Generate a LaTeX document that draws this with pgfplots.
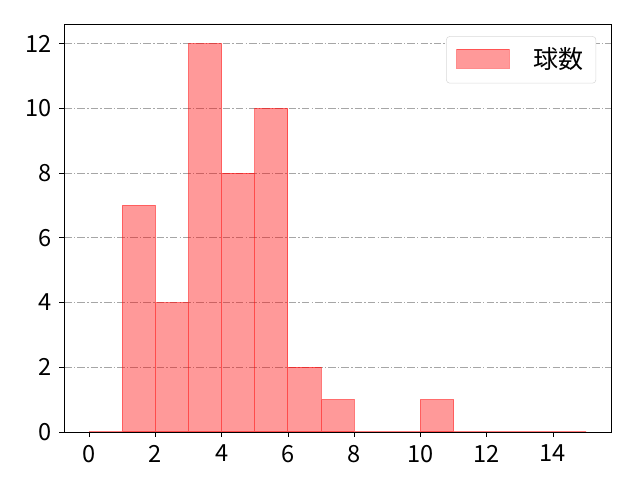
\documentclass[border=0pt]{standalone}
\usepackage{fontspec}
\setmainfont{Noto Sans CJK JP}
\usepackage{pgfplots}
\pgfplotsset{compat=1.18}
\begin{document}
\fontsize{17}{20}\selectfont
\begin{tikzpicture}
\begin{axis}[
  name=ax,
  scale only axis,
  width=393.6pt, height=293.5pt,
  xmin=-0.75, xmax=15.75, ymin=0, ymax=12.6,
  xtick={0,2,...,14}, ytick={0,2,...,12},
  tick align=outside, major tick length=3.5pt,
  tick style={black, line width=0.6pt},
  xtick pos=bottom, ytick pos=left,
  axis line style={black, line width=0.6pt},
  /pgf/number format/assume math mode=true,
  ticklabel style={font=\fontsize{17}{20}\selectfont},
  ymajorgrids,
  grid style={gray!70, line width=0.6pt, dash pattern=on 5.5pt off 1.5pt on 1pt off 1.5pt},
  legend style={at={(0.973,0.971)}, anchor=north east, draw=black!15, rounded corners=2.5pt,
    font=\fontsize{18}{21}\selectfont, inner xsep=7pt, inner ysep=6pt,
    cells={anchor=west}},
  legend image code/.code={\draw[sharp corners, fill=red, fill opacity=0.4, draw=red, draw opacity=0.45] (0pt,-6pt) rectangle (38pt,7.5pt);},
  legend cell align=left,
]
\addplot[ybar interval, fill=red, fill opacity=0.4, draw=red, draw opacity=0.5, line width=0.7pt]
 coordinates {(0,0) (1,7) (2,4) (3,12) (4,8) (5,10) (6,2) (7,1) (8,0) (9,0) (10,1) (11,0) (12,0) (13,0) (14,0) (15,0)};
\addlegendentry{\hspace{15pt}球数}
\end{axis}
\pgfresetboundingbox
\path (ax.south west) ++(-46.3pt,-34.56pt) coordinate (bl);
\path (ax.north east) ++(20.9pt,17.5pt) coordinate (tr);
\useasboundingbox (bl) rectangle (tr);
\end{tikzpicture}
\end{document}
